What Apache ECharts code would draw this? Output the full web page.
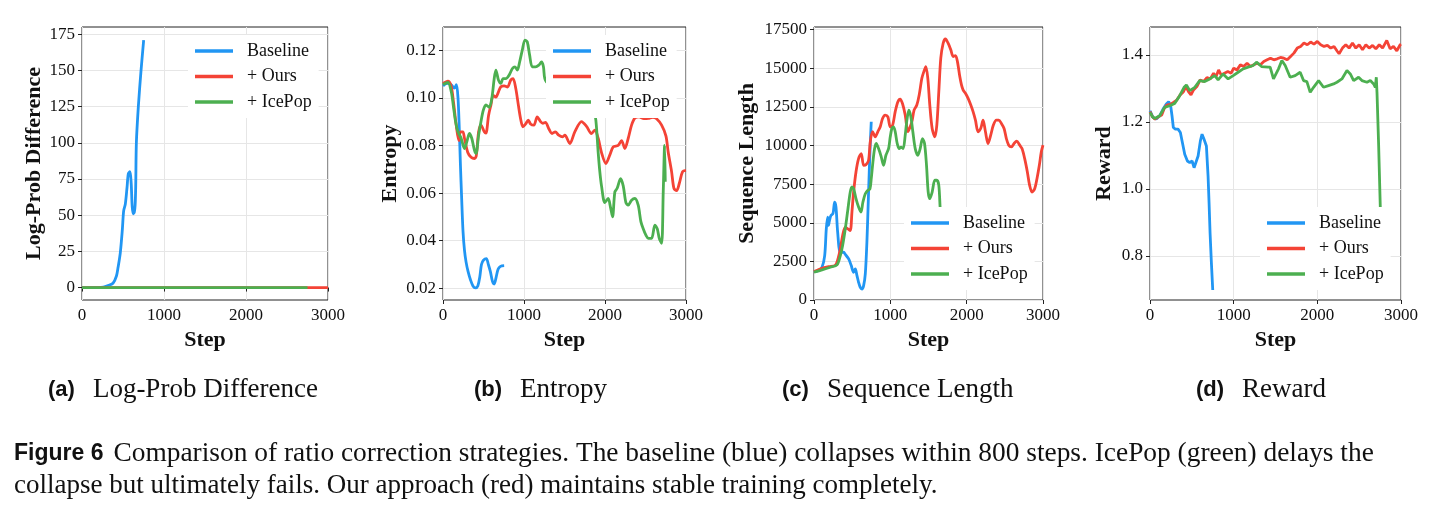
<!DOCTYPE html>
<html>
<head>
<meta charset="utf-8">
<title>Figure 6</title>
<script src="https://cdn.jsdelivr.net/npm/echarts@6/dist/echarts.min.js"></script>
<style>
  html, body { margin: 0; padding: 0; background: #fff; }
  #chart { width: 1440px; height: 516px; }
</style>
</head>
<body>
<div id="chart"></div>
<script>
const seriesNames = ['Baseline', '+ Ours', '+ IcePop']
const seriesColors = ['#2196f3', '#f44336', '#4caf50']

const stepTicks = [0, 1000, 2000, 3000]
const logTicks = [0, 25, 50, 75, 100, 125, 150, 175]
const entropyTicks = [0.02, 0.04, 0.06, 0.08, 0.10, 0.12]
const lengthTicks = [0, 2500, 5000, 7500, 10000, 12500, 15000, 17500]
const rewardTicks = [0.8, 1.0, 1.2, 1.4]

// (a) log-prob difference, [step, value]
const logBaseline = [[0, 0], [100, 0], [200, 0], [260, 0.3], [310, 1.2], [378, 3], [420, 8], [440, 14], [467, 24], [492, 40], [508, 53], [528, 57.5], [549, 69], [565, 78.6], [585, 80], [600, 72], [612, 56], [625, 51], [638, 52], [648, 57], [655, 70], [663, 100], [687, 125], [720, 150], [752, 171]]
const logOurs = [[0, 0], [1000, 0], [2000, 0], [3000, 0]]
const logIcePop = [[0, 0], [1000, 0], [2000, 0], [2750, 0]]

// (b) entropy
const entBaseline = [[0, 0.105], [50, 0.106], [100, 0.1055], [140, 0.104], [165, 0.1055], [185, 0.1], [200, 0.088], [215, 0.072], [230, 0.058], [247, 0.044], [265, 0.036], [285, 0.031], [310, 0.027], [340, 0.0235], [370, 0.021], [400, 0.0202], [430, 0.021], [455, 0.025], [475, 0.03], [500, 0.0318], [535, 0.0325], [560, 0.03], [585, 0.027], [610, 0.023], [632, 0.0218], [655, 0.0245], [680, 0.028], [710, 0.0292], [755, 0.0295]]
const entOurs = [[0, 0.106], [60, 0.107], [100, 0.105], [130, 0.098], [163, 0.0885], [196, 0.082], [215, 0.0857], [245, 0.0857], [265, 0.083], [306, 0.077], [347, 0.075], [388, 0.0745], [410, 0.0755], [440, 0.0857], [469, 0.0885], [510, 0.0857], [530, 0.0852], [563, 0.0927], [592, 0.097], [620, 0.101], [653, 0.1003], [685, 0.1025], [714, 0.1046], [755, 0.105], [796, 0.1045], [836, 0.1074], [865, 0.108], [898, 0.104], [930, 0.097], [959, 0.091], [987, 0.0878], [1020, 0.089], [1053, 0.0906], [1081, 0.089], [1122, 0.0885], [1163, 0.092], [1204, 0.09], [1232, 0.0893], [1265, 0.0897], [1306, 0.087], [1346, 0.085], [1387, 0.0857], [1428, 0.0843], [1477, 0.0836], [1504, 0.0843], [1566, 0.0808], [1627, 0.0857], [1710, 0.09], [1772, 0.088], [1833, 0.085], [1875, 0.0864], [1916, 0.083], [1957, 0.077], [2011, 0.0724], [2060, 0.076], [2101, 0.0794], [2163, 0.08], [2204, 0.082], [2245, 0.0787], [2287, 0.083], [2328, 0.0885], [2369, 0.0915], [2420, 0.092], [2480, 0.0912], [2534, 0.0913], [2590, 0.0918], [2637, 0.0912], [2699, 0.0885], [2752, 0.084], [2781, 0.077], [2822, 0.069], [2851, 0.062], [2884, 0.061], [2917, 0.064], [2958, 0.069], [3000, 0.0695]]
const entIcePop = [[0, 0.1056], [61, 0.1064], [102, 0.1025], [130, 0.096], [155, 0.09], [184, 0.0857], [224, 0.083], [265, 0.0787], [294, 0.0815], [326, 0.085], [355, 0.083], [388, 0.078], [408, 0.0766], [440, 0.0843], [469, 0.09], [498, 0.0948], [530, 0.097], [571, 0.096], [604, 0.1], [632, 0.108], [653, 0.1116], [685, 0.1074], [714, 0.106], [742, 0.108], [775, 0.108], [816, 0.1095], [857, 0.1123], [889, 0.113], [918, 0.1116], [946, 0.115], [979, 0.12], [1012, 0.1242], [1040, 0.1235], [1069, 0.118], [1102, 0.113], [1143, 0.113], [1183, 0.1137], [1216, 0.115], [1240, 0.113], [1257, 0.108], [1300, 0.106], [1400, 0.109], [1500, 0.104], [1600, 0.107], [1700, 0.102], [1800, 0.098], [1860, 0.095], [1887, 0.0906], [1916, 0.077], [1936, 0.069], [1957, 0.063], [1998, 0.056], [2039, 0.0577], [2068, 0.054], [2093, 0.05], [2122, 0.0605], [2150, 0.062], [2192, 0.066], [2225, 0.063], [2258, 0.056], [2287, 0.0549], [2328, 0.057], [2369, 0.0577], [2410, 0.0549], [2443, 0.048], [2472, 0.045], [2505, 0.0423], [2534, 0.041], [2575, 0.041], [2616, 0.0465], [2645, 0.045], [2670, 0.041], [2699, 0.0389], [2719, 0.0605], [2736, 0.08], [2744, 0.0647]]

// (c) sequence length
const lenBaseline = [[0, 1837], [61, 1900], [105, 2120], [140, 2876], [161, 4600], [179, 5365], [190, 4825], [201, 5100], [222, 5470], [249, 5600], [270, 6340], [288, 6015], [310, 4390], [345, 3090], [388, 3090], [410, 2950], [454, 2660], [488, 2227], [519, 1794], [541, 2010], [563, 1577], [584, 1144], [606, 820], [628, 711], [650, 928], [672, 1685], [693, 3742], [715, 6990], [733, 9590], [750, 11536]]
const lenOurs = [[0, 1840], [105, 2050], [192, 2160], [279, 2250], [314, 2660], [345, 3310], [375, 4175], [410, 4715], [445, 4600], [475, 4500], [497, 5690], [519, 6990], [550, 8290], [584, 9150], [619, 9480], [650, 8720], [680, 8750], [715, 9050], [737, 10237], [767, 10900], [802, 10560], [837, 10900], [868, 11210], [898, 11750], [933, 11970], [968, 11850], [999, 11210], [1029, 11300], [1064, 12190], [1099, 12835], [1129, 13000], [1160, 12700], [1195, 11970], [1230, 10900], [1251, 11100], [1282, 11536], [1312, 12300], [1347, 12620], [1378, 13270], [1413, 14350], [1439, 14780], [1465, 15100], [1491, 14350], [1517, 12620], [1548, 11100], [1583, 10560], [1609, 11320], [1635, 13480], [1661, 15650], [1692, 16620], [1722, 16900], [1757, 16620], [1792, 16190], [1823, 15760], [1853, 15820], [1879, 15430], [1910, 14460], [1932, 13920], [1953, 13600], [1984, 13380], [2019, 13050], [2054, 12620], [2084, 12190], [2115, 11640], [2150, 10890], [2184, 11100], [2215, 11640], [2246, 10890], [2280, 10130], [2315, 10670], [2350, 11320], [2389, 11640], [2420, 11640], [2455, 11430], [2490, 11100], [2520, 10450], [2551, 10020], [2586, 9910], [2621, 10130], [2655, 10280], [2695, 10020], [2725, 9800], [2760, 9150], [2795, 8290], [2825, 7420], [2856, 6990], [2891, 7200], [2921, 7850], [2952, 8720], [2978, 9590], [3000, 10020]]
const lenIcePop = [[0, 1800], [105, 1950], [214, 2120], [301, 2270], [345, 2880], [375, 3530], [410, 4610], [445, 5910], [475, 6990], [497, 7320], [519, 7200], [550, 6560], [584, 6015], [615, 5690], [641, 6340], [672, 6880], [706, 7100], [733, 7200], [750, 7850], [772, 8940], [794, 9800], [815, 10130], [846, 9800], [881, 9260], [911, 8720], [942, 9370], [977, 9800], [999, 10560], [1020, 11100], [1042, 11210], [1064, 10890], [1090, 10130], [1116, 9800], [1142, 9900], [1168, 9800], [1195, 10670], [1217, 11640], [1243, 12290], [1269, 11860], [1295, 10890], [1326, 9800], [1361, 9370], [1391, 9800], [1421, 10450], [1448, 10130], [1474, 8720], [1496, 6990], [1517, 6560], [1548, 6990], [1583, 7750], [1609, 7750], [1635, 7420], [1653, 5910], [1670, 4800]]

// (d) reward
const rewBaseline = [[0, 1.233], [36, 1.213], [76, 1.208], [116, 1.218], [156, 1.238], [195, 1.253], [223, 1.26], [247, 1.248], [263, 1.218], [279, 1.183], [303, 1.178], [335, 1.178], [363, 1.168], [387, 1.138], [415, 1.103], [447, 1.083], [475, 1.078], [503, 1.083], [527, 1.063], [547, 1.058], [575, 1.098], [602, 1.143], [622, 1.163], [646, 1.148], [674, 1.128], [694, 1.038], [706, 0.958], [718, 0.868], [734, 0.778], [750, 0.698]]
const rewOurs = [[0, 1.23], [30, 1.215], [60, 1.208], [100, 1.215], [140, 1.22], [170, 1.24], [200, 1.25], [240, 1.252], [280, 1.258], [320, 1.265], [360, 1.28], [400, 1.29], [430, 1.305], [460, 1.29], [490, 1.28], [520, 1.295], [560, 1.305], [600, 1.325], [640, 1.32], [680, 1.332], [720, 1.328], [760, 1.345], [790, 1.335], [820, 1.355], [850, 1.34], [890, 1.345], [930, 1.35], [970, 1.345], [1000, 1.36], [1040, 1.355], [1080, 1.37], [1120, 1.365], [1160, 1.375], [1200, 1.365], [1240, 1.37], [1280, 1.375], [1320, 1.37], [1360, 1.38], [1400, 1.385], [1440, 1.39], [1480, 1.385], [1520, 1.388], [1560, 1.392], [1600, 1.39], [1640, 1.385], [1680, 1.395], [1720, 1.405], [1760, 1.42], [1800, 1.425], [1840, 1.435], [1880, 1.43], [1920, 1.438], [1960, 1.432], [2000, 1.44], [2040, 1.43], [2080, 1.425], [2120, 1.428], [2160, 1.42], [2200, 1.425], [2240, 1.41], [2260, 1.403], [2300, 1.42], [2340, 1.43], [2380, 1.42], [2420, 1.435], [2460, 1.42], [2500, 1.43], [2540, 1.415], [2580, 1.43], [2620, 1.42], [2660, 1.428], [2700, 1.418], [2740, 1.43], [2780, 1.42], [2830, 1.443], [2870, 1.418], [2910, 1.425], [2950, 1.412], [2990, 1.43], [3000, 1.432]]
const rewIcePop = [[0, 1.228], [30, 1.215], [56, 1.21], [116, 1.218], [175, 1.243], [235, 1.248], [295, 1.255], [355, 1.278], [407, 1.303], [435, 1.31], [475, 1.293], [535, 1.303], [594, 1.323], [654, 1.32], [714, 1.328], [774, 1.338], [814, 1.325], [874, 1.343], [934, 1.328], [994, 1.338], [1053, 1.348], [1113, 1.358], [1173, 1.363], [1233, 1.368], [1273, 1.378], [1333, 1.365], [1412, 1.363], [1436, 1.363], [1476, 1.328], [1536, 1.358], [1576, 1.383], [1616, 1.368], [1675, 1.333], [1735, 1.338], [1795, 1.348], [1835, 1.323], [1875, 1.32], [1915, 1.288], [1955, 1.303], [2015, 1.323], [2074, 1.303], [2134, 1.308], [2194, 1.313], [2234, 1.318], [2294, 1.328], [2354, 1.353], [2394, 1.343], [2434, 1.323], [2493, 1.333], [2533, 1.323], [2593, 1.318], [2633, 1.323], [2673, 1.313], [2693, 1.303], [2705, 1.333], [2713, 1.288], [2733, 1.128], [2753, 0.94], [2758, 0.9]]

const SERIF = '"Liberation Serif", "DejaVu Serif", serif'
const SANS = '"Liberation Sans", Arial, sans-serif'
const INK = '#111'

const panels = [
  {
    grid: { left: 82, top: 27, width: 246, height: 273 },
    yName: 'Log-Prob Difference', nameGap: 37, min: -8.6, max: 180, ticks: logTicks,
    fmt: (v) => String(v), smooth: 0.3,
    legend: { left: 188, top: 35 },
    data: [logBaseline, logOurs, logIcePop],
  },
  {
    grid: { left: 443, top: 27, width: 243, height: 273 },
    yName: 'Entropy', nameGap: 42, min: 0.0151, max: 0.1297, ticks: entropyTicks,
    fmt: (v) => v.toFixed(2), smooth: 0.3,
    legend: { left: 546, top: 35 },
    data: [entBaseline, entOurs, entIcePop],
  },
  {
    grid: { left: 814, top: 27, width: 229, height: 273 },
    yName: 'Sequence Length', nameGap: 56, min: 0, max: 17670, ticks: lengthTicks,
    fmt: (v) => String(v), smooth: 0.3,
    legend: { left: 904, top: 207 },
    data: [lenBaseline, lenOurs, lenIcePop],
  },
  {
    grid: { left: 1150, top: 27, width: 251, height: 273 },
    yName: 'Reward', nameGap: 35, min: 0.668, max: 1.483, ticks: rewardTicks,
    fmt: (v) => v.toFixed(1), smooth: false,
    legend: { left: 1260, top: 207 },
    data: [rewBaseline, rewOurs, rewIcePop],
  },
]

const tickLabel = { fontFamily: SERIF, fontSize: 17, color: INK }
const axisNameStyle = { fontFamily: SERIF, fontSize: 22, fontWeight: 'bold', color: INK }
const splitLine = { show: true, lineStyle: { color: '#e6e6e6', width: 1 } }
const axisTick = { show: true, inside: false, length: 4, lineStyle: { color: '#222' } }

const grid = panels.map((p) => ({
  ...p.grid,
  show: true,
  borderColor: '#222',
  borderWidth: 1,
  backgroundColor: 'transparent',
  containLabel: false,
}))

const xAxis = panels.map((p, i) => ({
  type: 'value',
  gridIndex: i,
  min: 0,
  max: 3000,
  name: 'Step',
  nameLocation: 'middle',
  nameGap: 25,
  nameTextStyle: axisNameStyle,
  axisLine: { show: false },
  axisTick: { ...axisTick, customValues: stepTicks },
  axisLabel: { ...tickLabel, margin: 7, customValues: stepTicks, formatter: (v) => String(v) },
  splitLine: splitLine,
}))

const yAxis = panels.map((p, i) => ({
  type: 'value',
  gridIndex: i,
  min: p.min,
  max: p.max,
  name: p.yName,
  nameLocation: 'middle',
  nameRotate: 90,
  nameGap: p.nameGap,
  nameTextStyle: axisNameStyle,
  axisLine: { show: false },
  axisTick: { ...axisTick, customValues: p.ticks },
  axisLabel: { ...tickLabel, margin: 7, customValues: p.ticks, formatter: p.fmt },
  splitLine: splitLine,
}))

const series = []
panels.forEach((p, i) => {
  p.data.forEach((d, k) => {
    series.push({
      name: seriesNames[k],
      type: 'line',
      xAxisIndex: i,
      yAxisIndex: i,
      data: d,
      color: seriesColors[k],
      showSymbol: false,
      symbol: 'none',
      smooth: p.smooth,
      lineStyle: { width: 2.8, color: seriesColors[k] },
      emphasis: { disabled: true },
      z: 2 + k * 0.1,
    })
  })
})

const legend = panels.map((p) => ({
  data: seriesNames,
  orient: 'vertical',
  left: p.legend.left,
  top: p.legend.top,
  icon: 'rect',
  itemWidth: 38,
  itemHeight: 3.4,
  itemGap: 7.5,
  padding: 7,
  backgroundColor: '#fff',
  selectedMode: false,
  textStyle: { fontFamily: SERIF, fontSize: 18, color: INK, padding: [0, 0, 0, 9] },
}))

const capRich = {
  b: { fontFamily: SANS, fontWeight: 'bold', fontSize: 22, color: INK },
  gap: { width: 18 },
  n: { fontFamily: SERIF, fontSize: 27, color: INK },
}
const subCaptions = [
  { left: 48, text: '{b|(a)}{gap| }{n|Log-Prob Difference}' },
  { left: 474, text: '{b|(b)}{gap| }{n|Entropy}' },
  { left: 782, text: '{b|(c)}{gap| }{n|Sequence Length}' },
  { left: 1196, text: '{b|(d)}{gap| }{n|Reward}' },
]

const title = subCaptions.map((c) => ({
  left: c.left,
  top: 376,
  padding: 0,
  text: c.text,
  textStyle: { fontFamily: SERIF, fontSize: 22, fontWeight: 'normal', color: INK, rich: capRich },
}))
title.push({
  left: 14,
  top: 440,
  padding: 0,
  text: '{b|Figure 6}{gap| }{n|Comparison of ratio correction strategies. The baseline (blue) collapses within 800 steps. IcePop (green) delays the}',
  textStyle: { fontFamily: SERIF, fontSize: 22, fontWeight: 'normal', color: INK, rich: {
    b: { fontFamily: SANS, fontWeight: 'bold', fontSize: 23, color: INK },
    gap: { width: 10 },
    n: { fontFamily: SERIF, fontSize: 27.4, color: INK },
  } },
})
title.push({
  left: 14,
  top: 472,
  padding: 0,
  text: 'collapse but ultimately fails. Our approach (red) maintains stable training completely.',
  textStyle: { fontFamily: SERIF, fontSize: 27, fontWeight: 'normal', color: INK },
})

const myChart = echarts.init(document.getElementById('chart'), null, { renderer: 'canvas' })
myChart.setOption({
  animation: false,
  backgroundColor: '#fff',
  title,
  legend,
  grid,
  xAxis,
  yAxis,
  series,
})
</script>
</body>
</html>
